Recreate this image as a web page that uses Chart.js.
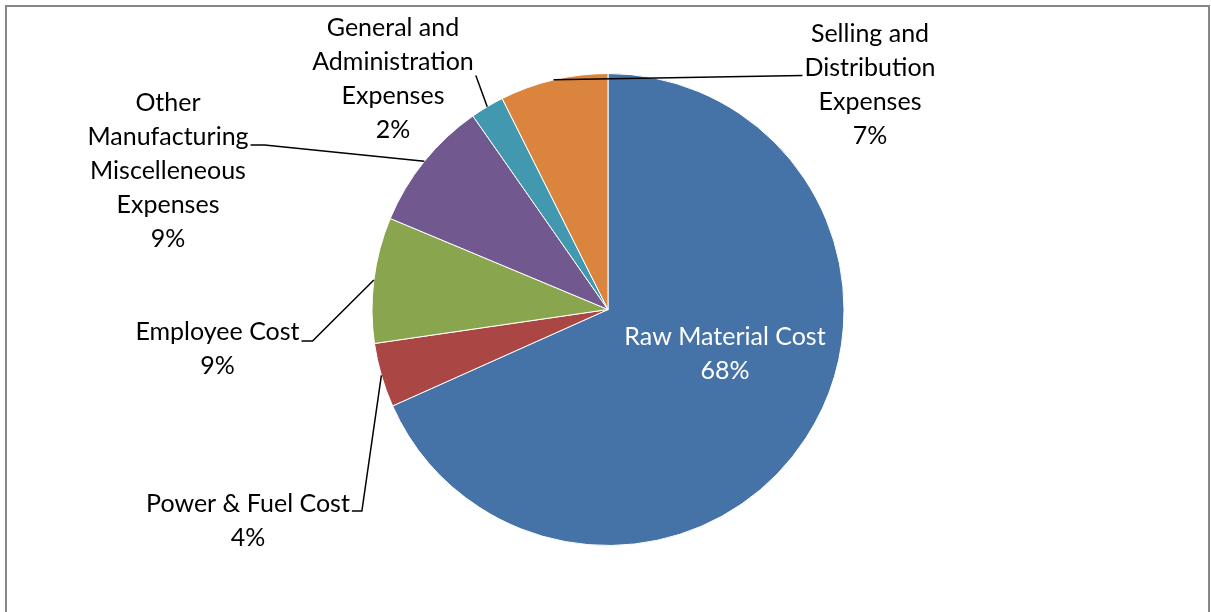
<!DOCTYPE html>
<html>
<head>
<meta charset="utf-8">
<script src="https://cdn.jsdelivr.net/npm/chart.js@4.4.0/dist/chart.umd.min.js"></script>
<style>
  body { margin: 0; background: #fff; }
</style>
</head>
<body>
<canvas id="myChart" width="1211" height="612"></canvas>
<script>
var categories = [
    ['Raw Material Cost'],
    ['Power & Fuel Cost'],
    ['Employee Cost'],
    ['Other', 'Manufacturing', 'Miscelleneous', 'Expenses'],
    ['General and', 'Administration', 'Expenses'],
    ['Selling and', 'Distribution', 'Expenses']
];
var shares = [68.3, 4.4, 8.6, 9.0, 2.3, 7.4];
var colours = ['#4572A7', '#AA4643', '#89A54E', '#71588F', '#4198AF', '#DB843D'];

// label block centre relative to pie centre, and where the leader line hooks on
var labelSpots = [
    { dx: 117, dy: 44.5, inside: true },
    { dx: -360, dy: 211.5, side: 'right', line: 0, drop: 7, elbow: 10 },
    { dx: -390.5, dy: 39.5, side: 'right', line: 0, drop: 9, elbow: 11 },
    { dx: -440, dy: -138.5, side: 'right', line: 1, drop: 8, elbow: 14 },
    { dx: -215, dy: -231, side: 'right', line: 1, drop: 14, elbow: 0 },
    { dx: 262, dy: -225, side: 'left', line: 1, drop: 8, elbow: 0 }
];
var lineHeight = 34;
var labelFont = '25px Lato';

var frame = {
    id: 'frame',
    beforeDraw: function (chart) {
        var c = chart.ctx;
        c.save();
        c.strokeStyle = '#878787';
        c.lineWidth = 2;
        c.strokeRect(6, 6, 1203, 700);
        c.restore();
    }
};

var sliceLabels = {
    id: 'sliceLabels',
    afterDatasetsDraw: function (chart) {
        var c = chart.ctx;
        var arcs = chart.getDatasetMeta(0).data;
        var total = shares.reduce(function (a, b) { return a + b; }, 0);
        c.save();
        c.font = labelFont;
        c.textAlign = 'center';
        c.textBaseline = 'middle';
        arcs.forEach(function (arc, i) {
            var p = arc.getProps(['x', 'y', 'startAngle', 'endAngle', 'outerRadius'], true);
            var spot = labelSpots[i];
            var lines = categories[i].concat([Math.round(shares[i] / total * 100) + '%']);
            var cx = p.x + spot.dx;
            var top = p.y + spot.dy - (lines.length - 1) / 2 * lineHeight;

            c.fillStyle = spot.inside ? '#ffffff' : '#000000';
            lines.forEach(function (t, k) {
                c.fillText(t, cx, top + k * lineHeight);
            });

            if (!spot.inside) {
                var mid = (p.startAngle + p.endAngle) / 2;
                var ex = p.x + p.outerRadius * Math.cos(mid);
                var ey = p.y + p.outerRadius * Math.sin(mid);
                var w = c.measureText(lines[spot.line]).width;
                var dir = spot.side === 'right' ? 1 : -1;
                var tx = cx + dir * (w / 2 + 2);
                var ty = top + spot.line * lineHeight + spot.drop;
                c.beginPath();
                c.strokeStyle = '#000000';
                c.lineWidth = 1.5;
                c.moveTo(ex, ey);
                c.lineTo(tx + dir * spot.elbow, ty);
                c.lineTo(tx, ty);
                c.stroke();
            }
        });
        c.restore();
    }
};

var ctx = document.getElementById('myChart').getContext('2d');
var myChart = new Chart(ctx, {
    type: 'pie',
    data: {
        labels: categories,
        datasets: [{
            data: shares,
            backgroundColor: colours,
            borderColor: '#ffffff',
            borderWidth: 1
        }]
    },
    options: {
        responsive: false,
        animation: false,
        layout: {
            padding: { top: 73, bottom: 66, left: 258, right: 253 }
        },
        plugins: {
            legend: { display: false },
            tooltip: { enabled: false }
        }
    },
    plugins: [frame, sliceLabels]
});
</script>
</body>
</html>
